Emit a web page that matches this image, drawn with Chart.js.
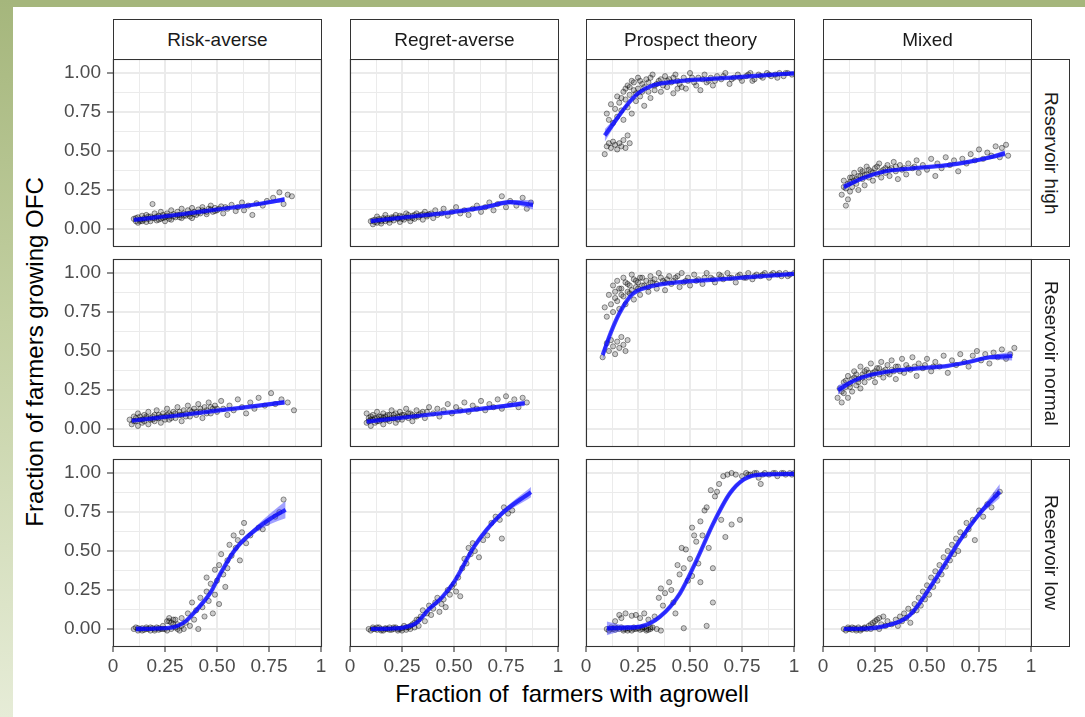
<!DOCTYPE html>
<html>
<head>
<meta charset="utf-8">
<script src="https://cdn.jsdelivr.net/npm/chart.js@4/dist/chart.umd.min.js"></script>
<style>
  body { margin: 0; background: #fff; font-family: 'Liberation Sans', Arial, sans-serif; }
  #page { position: relative; width: 1085px; height: 717px; overflow: hidden; background: #fff; }
  .band-top { position: absolute; left: 0; top: 0; width: 1085px; height: 7px; background: #a5b67c; }
  .band-left { position: absolute; left: 0; top: 0; width: 13px; height: 717px;
               background: linear-gradient(#a5b67c, #c3d0a2 45%, #e6ecd7); }
  .panel { position: absolute; }
  .strip { position: absolute; box-sizing: border-box; border: 1px solid #333; background: #fff;
           color: #1a1a1a; font-size: 19px; display: flex; align-items: center; justify-content: center; }
  .strip.side span { writing-mode: vertical-rl; }
  .title { position: absolute; color: #000; font-size: 24px; text-align: center;
           height: 28px; line-height: 28px; width: 600px; }
</style>
</head>
<body>
<div id="page">
  <div class="band-top"></div>
  <div class="band-left"></div>
  <div class="title" style="left:272px; top:680px;">Fraction of&nbsp; farmers with agrowell</div>
  <div class="title" style="left:-265px; top:338px; transform:rotate(-90deg);">Fraction of farmers growing OFC</div>
</div>
<script>
// facet labels
const colLabels = ['Risk-averse', 'Regret-averse', 'Prospect theory', 'Mixed'];
const rowLabels = ['Reservoir high', 'Reservoir normal', 'Reservoir low'];

// axis ticks
const xTickVals = [0, 0.25, 0.5, 0.75, 1];
const xTickLabels = ['0', '0.25', '0.50', '0.75', '1'];
const yTickVals = [0, 0.25, 0.5, 0.75, 1];
const yTickLabels = ['0.00', '0.25', '0.50', '0.75', '1.00'];
const gridVals = [0, 0.125, 0.25, 0.375, 0.5, 0.625, 0.75, 0.875, 1];

// simulated runs: [agrowell fraction, OFC fraction]
const ptsHighRisk = [[0.10,0.065],[0.11,0.05],[0.12,0.075],[0.12,0.04],[0.13,0.06],[0.14,0.085],[0.14,0.05],[0.15,0.07],[0.16,0.045],[0.16,0.09],[0.17,0.065],[0.18,0.08],[0.18,0.05],[0.19,0.16],[0.20,0.07],[0.20,0.10],[0.21,0.055],[0.22,0.085],[0.23,0.065],[0.23,0.11],[0.24,0.09],[0.25,0.05],[0.25,0.075],[0.26,0.10],[0.27,0.08],[0.28,0.12],[0.28,0.06],[0.29,0.095],[0.30,0.075],[0.31,0.11],[0.32,0.09],[0.33,0.13],[0.33,0.07],[0.34,0.10],[0.35,0.085],[0.36,0.12],[0.37,0.10],[0.38,0.07],[0.38,0.135],[0.39,0.11],[0.40,0.09],[0.41,0.125],[0.42,0.10],[0.43,0.14],[0.44,0.115],[0.45,0.095],[0.46,0.13],[0.47,0.15],[0.48,0.11],[0.49,0.135],[0.50,0.12],[0.52,0.145],[0.53,0.10],[0.55,0.13],[0.57,0.155],[0.59,0.115],[0.60,0.14],[0.62,0.17],[0.63,0.12],[0.65,0.15],[0.67,0.09],[0.69,0.165],[0.72,0.15],[0.74,0.18],[0.77,0.20],[0.80,0.235],[0.82,0.16],[0.84,0.22],[0.86,0.21],
  [0.11,0.07],[0.13,0.05],[0.15,0.06],[0.17,0.08],[0.19,0.07],[0.21,0.08],[0.22,0.06],[0.24,0.07],[0.26,0.085],[0.27,0.065],[0.29,0.08],[0.31,0.09],[0.32,0.075],[0.34,0.085],[0.36,0.095],[0.37,0.08],[0.39,0.095],[0.41,0.105],[0.43,0.12],[0.45,0.11],[0.47,0.125],[0.49,0.115],[0.51,0.13],[0.54,0.14]];
const ptsHighRegret = [[0.10,0.05],[0.11,0.03],[0.12,0.06],[0.13,0.04],[0.13,0.08],[0.14,0.055],[0.15,0.035],[0.16,0.07],[0.17,0.05],[0.17,0.09],[0.18,0.06],[0.19,0.04],[0.20,0.075],[0.21,0.055],[0.22,0.09],[0.23,0.065],[0.24,0.045],[0.25,0.08],[0.26,0.06],[0.27,0.10],[0.28,0.07],[0.29,0.05],[0.30,0.085],[0.31,0.065],[0.32,0.10],[0.33,0.075],[0.34,0.09],[0.35,0.06],[0.36,0.11],[0.37,0.08],[0.38,0.095],[0.40,0.07],[0.41,0.12],[0.42,0.09],[0.44,0.10],[0.45,0.13],[0.47,0.085],[0.49,0.11],[0.51,0.14],[0.53,0.10],[0.55,0.12],[0.57,0.09],[0.59,0.13],[0.61,0.15],[0.63,0.11],[0.65,0.14],[0.67,0.17],[0.69,0.12],[0.71,0.16],[0.73,0.21],[0.75,0.14],[0.77,0.18],[0.80,0.15],[0.83,0.20],[0.85,0.13],[0.87,0.17],
  [0.11,0.055],[0.12,0.045],[0.14,0.065],[0.15,0.05],[0.16,0.06],[0.18,0.07],[0.19,0.06],[0.20,0.065],[0.21,0.075],[0.23,0.07],[0.24,0.085],[0.25,0.065],[0.27,0.075],[0.28,0.09],[0.30,0.07],[0.31,0.09],[0.33,0.085],[0.35,0.095],[0.37,0.09],[0.39,0.10]];
const ptsHighProspect = [[0.10,0.53],[0.11,0.55],[0.12,0.52],[0.13,0.56],[0.14,0.54],[0.15,0.51],[0.16,0.55],[0.17,0.53],[0.18,0.57],[0.19,0.52],[0.09,0.48],[0.21,0.55],[0.20,0.60],[0.10,0.74],[0.11,0.70],[0.12,0.80],[0.13,0.68],[0.14,0.77],[0.15,0.85],[0.15,0.72],[0.16,0.81],[0.17,0.76],[0.18,0.88],[0.18,0.70],[0.19,0.83],[0.20,0.92],[0.20,0.78],[0.21,0.86],[0.22,0.95],[0.22,0.74],[0.23,0.89],[0.24,0.82],[0.25,0.97],[0.25,0.90],[0.26,0.85],[0.27,0.93],[0.28,0.79],[0.29,0.96],[0.30,0.88],[0.31,0.84],[0.32,0.99],[0.33,0.92],[0.35,0.95],[0.36,0.88],[0.38,0.98],[0.39,0.91],[0.40,0.96],[0.42,0.87],[0.43,0.99],[0.45,0.93],[0.47,0.97],[0.48,0.90],[0.50,1.00],[0.52,0.94],[0.54,0.97],[0.55,0.89],[0.57,0.99],[0.59,0.95],[0.61,0.92],[0.63,0.98],[0.65,0.96],[0.67,1.00],[0.69,0.93],[0.71,0.97],[0.73,0.99],[0.75,0.95],[0.77,0.98],[0.79,1.00],[0.81,0.96],[0.83,0.99],[0.85,0.97],[0.87,1.00],[0.89,0.98],[0.91,0.99],[0.93,1.00],[0.95,0.98],[0.97,1.00],[0.99,0.99],[0.44,0.90],[0.60,0.97],[0.80,0.95],
  [0.17,0.84],[0.19,0.90],[0.21,0.91],[0.23,0.94],[0.24,0.87],[0.26,0.95],[0.27,0.88],[0.28,0.91],[0.30,0.94],[0.31,0.97],[0.33,0.89],[0.34,0.93],[0.36,0.96],[0.37,0.92],[0.39,0.95],[0.41,0.94],[0.42,0.97],[0.44,0.95],[0.46,0.91],[0.49,0.95],[0.51,0.97],[0.53,0.92],[0.56,0.96],[0.58,0.94],[0.62,0.95],[0.66,0.98],[0.70,0.96],[0.74,0.97],[0.78,0.99],[0.84,0.98],[0.88,0.99],[0.92,0.97],[0.96,1.00]];
const ptsHighMixed = [[0.09,0.22],[0.10,0.27],[0.10,0.31],[0.11,0.15],[0.12,0.19],[0.12,0.29],[0.13,0.24],[0.13,0.33],[0.14,0.27],[0.15,0.31],[0.15,0.36],[0.16,0.29],[0.17,0.34],[0.17,0.25],[0.18,0.38],[0.19,0.32],[0.20,0.35],[0.20,0.28],[0.21,0.40],[0.22,0.33],[0.23,0.37],[0.24,0.31],[0.25,0.39],[0.26,0.35],[0.27,0.42],[0.28,0.33],[0.29,0.38],[0.30,0.36],[0.31,0.41],[0.32,0.34],[0.33,0.39],[0.34,0.43],[0.35,0.37],[0.36,0.32],[0.37,0.41],[0.38,0.38],[0.40,0.35],[0.41,0.42],[0.43,0.39],[0.45,0.44],[0.46,0.36],[0.48,0.41],[0.50,0.38],[0.52,0.45],[0.54,0.34],[0.55,0.42],[0.57,0.39],[0.59,0.46],[0.61,0.41],[0.63,0.44],[0.65,0.37],[0.67,0.45],[0.69,0.42],[0.71,0.48],[0.73,0.44],[0.75,0.51],[0.77,0.45],[0.79,0.49],[0.81,0.47],[0.83,0.53],[0.85,0.46],[0.86,0.52],[0.88,0.54],[0.89,0.47],
  [0.11,0.26],[0.13,0.30],[0.14,0.33],[0.16,0.32],[0.18,0.34],[0.19,0.37],[0.21,0.35],[0.22,0.38],[0.24,0.36],[0.26,0.40],[0.28,0.37],[0.30,0.39],[0.32,0.38],[0.35,0.40],[0.39,0.39],[0.44,0.40]];
const ptsNormRisk = [[0.08,0.06],[0.09,0.03],[0.10,0.08],[0.11,0.05],[0.12,0.02],[0.12,0.10],[0.13,0.06],[0.14,0.04],[0.15,0.09],[0.16,0.07],[0.17,0.03],[0.17,0.11],[0.18,0.06],[0.19,0.08],[0.20,0.05],[0.21,0.12],[0.22,0.07],[0.23,0.04],[0.24,0.10],[0.25,0.08],[0.26,0.13],[0.27,0.06],[0.28,0.09],[0.29,0.11],[0.30,0.07],[0.31,0.14],[0.32,0.09],[0.33,0.05],[0.34,0.12],[0.35,0.10],[0.36,0.15],[0.37,0.08],[0.38,0.11],[0.39,0.13],[0.40,0.09],[0.41,0.16],[0.42,0.11],[0.43,0.07],[0.44,0.14],[0.45,0.12],[0.46,0.17],[0.47,0.10],[0.48,0.13],[0.49,0.15],[0.50,0.11],[0.52,0.18],[0.53,0.13],[0.55,0.09],[0.56,0.15],[0.58,0.12],[0.60,0.19],[0.62,0.14],[0.64,0.10],[0.66,0.17],[0.68,0.13],[0.70,0.20],[0.73,0.15],[0.76,0.23],[0.78,0.16],[0.81,0.19],[0.84,0.17],[0.87,0.12],
  [0.10,0.05],[0.11,0.07],[0.13,0.08],[0.14,0.06],[0.15,0.05],[0.16,0.08],[0.18,0.07],[0.19,0.06],[0.20,0.09],[0.21,0.07],[0.22,0.09],[0.23,0.08],[0.25,0.06],[0.26,0.09],[0.27,0.10],[0.28,0.07],[0.30,0.10],[0.32,0.11],[0.33,0.09],[0.35,0.08],[0.37,0.12],[0.40,0.11],[0.42,0.13],[0.45,0.10],[0.47,0.14],[0.50,0.13]];
const ptsNormRegret = [[0.08,0.10],[0.08,0.04],[0.09,0.07],[0.10,0.02],[0.10,0.06],[0.11,0.09],[0.12,0.04],[0.13,0.07],[0.13,0.11],[0.14,0.05],[0.15,0.08],[0.16,0.03],[0.16,0.10],[0.17,0.06],[0.18,0.09],[0.19,0.05],[0.20,0.12],[0.21,0.07],[0.22,0.04],[0.22,0.10],[0.23,0.08],[0.24,0.11],[0.25,0.06],[0.26,0.09],[0.27,0.13],[0.28,0.07],[0.29,0.10],[0.30,0.05],[0.31,0.08],[0.32,0.12],[0.33,0.09],[0.35,0.11],[0.36,0.07],[0.38,0.14],[0.40,0.10],[0.42,0.13],[0.43,0.08],[0.45,0.12],[0.47,0.16],[0.49,0.10],[0.51,0.14],[0.53,0.12],[0.55,0.17],[0.57,0.11],[0.59,0.15],[0.61,0.13],[0.63,0.18],[0.65,0.12],[0.67,0.16],[0.69,0.14],[0.71,0.19],[0.73,0.13],[0.75,0.21],[0.77,0.16],[0.79,0.19],[0.81,0.14],[0.83,0.20],[0.85,0.17],
  [0.09,0.05],[0.10,0.08],[0.11,0.06],[0.12,0.07],[0.13,0.05],[0.14,0.08],[0.15,0.06],[0.16,0.07],[0.17,0.08],[0.18,0.06],[0.19,0.09],[0.20,0.07],[0.21,0.09],[0.23,0.06],[0.24,0.08],[0.25,0.09],[0.27,0.08],[0.28,0.10],[0.30,0.09],[0.32,0.08],[0.34,0.10],[0.37,0.11]];
const ptsNormProspect = [[0.10,0.55],[0.11,0.50],[0.12,0.57],[0.13,0.53],[0.14,0.48],[0.15,0.56],[0.16,0.52],[0.17,0.59],[0.18,0.54],[0.19,0.50],[0.20,0.57],[0.08,0.46],[0.09,0.78],[0.10,0.72],[0.11,0.86],[0.12,0.80],[0.13,0.92],[0.13,0.75],[0.14,0.88],[0.15,0.82],[0.15,0.95],[0.16,0.77],[0.17,0.90],[0.18,0.85],[0.18,0.97],[0.19,0.80],[0.20,0.93],[0.21,0.87],[0.22,0.99],[0.23,0.83],[0.24,0.95],[0.25,0.90],[0.26,0.86],[0.27,0.97],[0.28,0.92],[0.30,0.88],[0.31,0.98],[0.32,0.94],[0.34,0.90],[0.35,1.00],[0.37,0.95],[0.38,0.89],[0.40,0.98],[0.41,0.93],[0.43,0.97],[0.45,0.91],[0.46,1.00],[0.48,0.95],[0.50,0.92],[0.52,0.99],[0.54,0.96],[0.56,0.93],[0.58,1.00],[0.60,0.97],[0.62,0.94],[0.64,0.99],[0.66,0.96],[0.68,1.00],[0.70,0.97],[0.72,0.94],[0.74,0.99],[0.76,0.97],[0.78,1.00],[0.80,0.96],[0.82,0.99],[0.84,0.98],[0.86,1.00],[0.88,0.97],[0.90,1.00],[0.92,0.99],[0.94,0.98],[0.96,1.00],[0.98,0.99],[1.00,1.00],
  [0.14,0.84],[0.16,0.90],[0.17,0.86],[0.19,0.94],[0.20,0.88],[0.21,0.92],[0.22,0.89],[0.23,0.96],[0.24,0.91],[0.25,0.94],[0.26,0.97],[0.27,0.92],[0.29,0.95],[0.30,0.91],[0.31,0.94],[0.33,0.96],[0.34,0.93],[0.36,0.97],[0.38,0.94],[0.39,0.96],[0.42,0.95],[0.44,0.98],[0.47,0.94],[0.49,0.97],[0.53,0.95],[0.57,0.97],[0.61,0.96],[0.65,0.98],[0.69,0.97],[0.73,0.98],[0.77,0.97],[0.81,0.98],[0.85,0.99],[0.89,0.99],[0.93,1.00],[0.97,0.98]];
const ptsNormMixed = [[0.07,0.20],[0.08,0.26],[0.09,0.17],[0.10,0.30],[0.10,0.23],[0.11,0.27],[0.12,0.20],[0.12,0.34],[0.13,0.29],[0.14,0.24],[0.15,0.33],[0.15,0.37],[0.16,0.28],[0.17,0.32],[0.18,0.26],[0.18,0.40],[0.19,0.35],[0.20,0.30],[0.21,0.38],[0.22,0.33],[0.23,0.42],[0.24,0.36],[0.25,0.30],[0.26,0.39],[0.27,0.35],[0.28,0.43],[0.29,0.33],[0.30,0.38],[0.31,0.41],[0.32,0.35],[0.33,0.44],[0.34,0.37],[0.35,0.32],[0.36,0.40],[0.38,0.45],[0.39,0.36],[0.40,0.41],[0.42,0.38],[0.43,0.46],[0.45,0.34],[0.46,0.42],[0.48,0.39],[0.50,0.45],[0.52,0.37],[0.54,0.43],[0.56,0.40],[0.58,0.47],[0.60,0.36],[0.62,0.44],[0.64,0.41],[0.66,0.48],[0.68,0.43],[0.70,0.40],[0.72,0.47],[0.74,0.50],[0.76,0.44],[0.78,0.48],[0.80,0.42],[0.82,0.49],[0.84,0.46],[0.86,0.51],[0.88,0.45],[0.90,0.48],[0.92,0.52],
  [0.09,0.24],[0.11,0.31],[0.13,0.27],[0.14,0.32],[0.16,0.35],[0.17,0.30],[0.19,0.33],[0.20,0.37],[0.22,0.36],[0.24,0.34],[0.25,0.37],[0.27,0.39],[0.29,0.37],[0.31,0.36],[0.33,0.38],[0.35,0.40],[0.37,0.37],[0.41,0.39],[0.44,0.40],[0.49,0.41],[0.53,0.40]];
const ptsLowRisk = [[0.10,0.00],[0.11,0.01],[0.12,-0.01],[0.13,0.00],[0.14,0.005],[0.15,-0.005],[0.16,0.01],[0.17,0.00],[0.18,-0.01],[0.19,0.005],[0.20,0.00],[0.21,0.01],[0.22,-0.005],[0.23,0.00],[0.24,0.02],[0.25,0.00],[0.26,0.05],[0.26,-0.01],[0.27,0.07],[0.28,0.00],[0.28,0.04],[0.29,0.06],[0.30,0.01],[0.31,0.03],[0.32,-0.01],[0.33,0.07],[0.34,0.00],[0.35,0.04],[0.36,0.10],[0.37,0.02],[0.38,0.17],[0.39,0.06],[0.40,0.12],[0.41,0.00],[0.42,0.20],[0.43,0.14],[0.44,0.08],[0.45,0.24],[0.45,0.33],[0.46,0.18],[0.47,0.29],[0.48,0.10],[0.49,0.38],[0.49,0.22],[0.50,0.31],[0.51,0.41],[0.51,0.16],[0.52,0.48],[0.53,0.35],[0.54,0.27],[0.55,0.44],[0.55,0.39],[0.56,0.54],[0.57,0.47],[0.58,0.60],[0.59,0.52],[0.60,0.57],[0.61,0.44],[0.62,0.62],[0.63,0.68],[0.64,0.55],[0.66,0.60],[0.70,0.65],[0.72,0.64],[0.74,0.68],[0.78,0.72],[0.80,0.75],[0.82,0.83],
  [0.12,0.005],[0.14,-0.01],[0.16,0.00],[0.18,0.01],[0.20,-0.01],[0.22,0.005],[0.24,0.00],[0.27,0.05],[0.29,0.03],[0.30,0.06],[0.31,0.00],[0.33,0.02]];
const ptsLowRegret = [[0.09,0.00],[0.10,-0.01],[0.11,0.01],[0.12,0.00],[0.13,-0.005],[0.14,0.01],[0.15,0.00],[0.16,-0.01],[0.17,0.005],[0.18,0.00],[0.19,0.01],[0.20,-0.005],[0.21,0.00],[0.22,0.01],[0.23,-0.01],[0.24,0.00],[0.25,0.005],[0.26,0.02],[0.27,-0.005],[0.28,0.01],[0.29,0.00],[0.30,0.03],[0.31,0.01],[0.32,0.06],[0.33,0.02],[0.34,0.08],[0.35,0.12],[0.36,0.05],[0.37,0.10],[0.38,0.15],[0.39,0.09],[0.40,0.13],[0.41,0.17],[0.42,0.20],[0.43,0.11],[0.44,0.16],[0.45,0.19],[0.46,0.14],[0.47,0.25],[0.48,0.22],[0.49,0.27],[0.50,0.29],[0.51,0.24],[0.52,0.33],[0.53,0.21],[0.54,0.39],[0.55,0.45],[0.56,0.42],[0.57,0.52],[0.58,0.48],[0.59,0.55],[0.60,0.50],[0.62,0.46],[0.64,0.57],[0.66,0.60],[0.68,0.68],[0.70,0.72],[0.72,0.70],[0.73,0.58],[0.74,0.78],[0.76,0.74],[0.78,0.76],
  [0.11,0.00],[0.13,0.01],[0.15,-0.01],[0.17,0.00],[0.19,-0.005],[0.21,0.01],[0.23,0.00],[0.25,-0.01],[0.27,0.01],[0.29,0.02],[0.31,0.04],[0.33,0.06]];
const ptsLowProspect = [[0.10,0.00],[0.11,-0.01],[0.12,0.01],[0.13,0.00],[0.14,-0.005],[0.15,0.005],[0.16,0.00],[0.17,0.01],[0.18,-0.01],[0.19,0.00],[0.20,0.005],[0.21,0.00],[0.22,-0.01],[0.23,0.01],[0.24,0.00],[0.25,0.005],[0.26,-0.005],[0.27,0.00],[0.28,0.01],[0.29,0.00],[0.30,-0.005],[0.31,0.00],[0.32,0.01],[0.34,0.00],[0.36,-0.01],[0.16,0.09],[0.17,0.07],[0.19,0.10],[0.22,0.085],[0.24,0.09],[0.26,0.07],[0.28,0.10],[0.30,0.06],[0.33,0.08],[0.14,0.05],[0.35,0.20],[0.36,0.26],[0.37,0.15],[0.38,0.23],[0.40,0.30],[0.41,0.25],[0.42,0.17],[0.43,0.10],[0.44,0.41],[0.45,0.35],[0.46,0.52],[0.47,0.39],[0.48,0.51],[0.49,0.31],[0.50,0.45],[0.51,0.65],[0.51,0.34],[0.52,0.60],[0.53,0.56],[0.54,0.42],[0.55,0.69],[0.55,0.30],[0.56,0.60],[0.57,0.76],[0.58,0.78],[0.59,0.52],[0.60,0.89],[0.61,0.39],[0.61,0.17],[0.62,0.85],[0.63,0.88],[0.64,0.93],[0.65,0.70],[0.66,0.98],[0.67,0.59],[0.68,0.99],[0.70,0.67],[0.70,1.00],[0.72,0.99],[0.74,0.70],[0.75,0.98],[0.77,1.00],[0.79,0.99],[0.81,1.00],[0.83,0.97],[0.84,0.93],[0.86,1.00],[0.88,0.99],[0.90,1.00],[0.92,0.98],[0.94,1.00],[0.96,0.99],[0.98,1.00],[1.00,1.00],[0.58,0.02],[0.47,0.005],
  [0.12,0.00],[0.14,0.01],[0.18,0.00],[0.20,-0.01],[0.23,0.00],[0.27,0.01],[0.29,-0.01],[0.31,0.01],[0.78,0.99],[0.82,1.00],[0.85,0.99],[0.91,1.00],[0.95,1.00],[0.99,0.99]];
const ptsLowMixed = [[0.10,0.00],[0.11,-0.01],[0.12,0.01],[0.13,0.00],[0.14,-0.005],[0.15,0.005],[0.16,0.00],[0.17,0.01],[0.18,-0.01],[0.19,0.00],[0.20,0.005],[0.21,0.00],[0.22,0.02],[0.23,0.00],[0.24,0.04],[0.25,0.01],[0.26,0.06],[0.27,0.00],[0.28,0.03],[0.29,0.08],[0.30,0.02],[0.31,0.05],
  [0.33,0.03],[0.35,0.06],[0.36,0.02],[0.37,0.08],[0.38,0.05],[0.39,0.10],[0.40,0.07],[0.41,0.13],[0.42,0.04],[0.43,0.11],[0.44,0.16],[0.45,0.12],[0.46,0.20],[0.47,0.15],[0.48,0.24],[0.49,0.19],[0.50,0.28],[0.51,0.22],[0.52,0.33],[0.53,0.27],[0.54,0.37],[0.55,0.31],[0.56,0.41],[0.57,0.35],[0.58,0.46],[0.59,0.40],[0.60,0.50],[0.61,0.44],[0.62,0.54],[0.63,0.48],[0.64,0.58],[0.65,0.50],[0.66,0.62],[0.68,0.60],[0.69,0.68],[0.70,0.64],[0.72,0.70],[0.73,0.57],[0.75,0.76],[0.77,0.72],[0.79,0.80],[0.81,0.78],[0.83,0.86],[0.85,0.88],
  [0.12,0.00],[0.14,0.01],[0.16,-0.01],[0.18,0.00],[0.20,0.01],[0.23,0.03],[0.25,0.05],[0.27,0.07]];

// smoothed fit: [x, fit, lower, upper]
const fitHighRisk = [[0.10,0.058,0.050,0.066],[0.30,0.090,0.085,0.095],[0.50,0.125,0.120,0.130],[0.70,0.160,0.150,0.170],[0.825,0.190,0.175,0.205]];
const fitHighRegret = [[0.10,0.050,0.040,0.060],[0.30,0.080,0.075,0.085],[0.50,0.110,0.103,0.117],[0.65,0.140,0.130,0.150],[0.77,0.172,0.158,0.186],[0.88,0.155,0.125,0.185]];
const fitHighProspect = [[0.09,0.60,0.56,0.64],[0.15,0.71,0.69,0.73],[0.20,0.80,0.785,0.815],[0.25,0.87,0.86,0.88],[0.32,0.92,0.91,0.93],[0.40,0.94,0.932,0.948],[0.50,0.955,0.948,0.962],[0.60,0.962,0.955,0.969],[0.70,0.970,0.963,0.977],[0.80,0.980,0.973,0.987],[0.90,0.990,0.982,0.998],[1.00,0.998,0.985,1.011]];
const fitHighMixed = [[0.10,0.27,0.25,0.29],[0.20,0.33,0.32,0.34],[0.30,0.37,0.36,0.38],[0.40,0.385,0.377,0.393],[0.50,0.397,0.389,0.405],[0.60,0.41,0.40,0.42],[0.70,0.43,0.42,0.44],[0.80,0.458,0.445,0.471],[0.875,0.485,0.465,0.505]];
const fitNormRisk = [[0.09,0.053,0.045,0.061],[0.30,0.085,0.080,0.090],[0.50,0.118,0.113,0.123],[0.70,0.150,0.140,0.160],[0.825,0.171,0.155,0.187]];
const fitNormRegret = [[0.08,0.047,0.040,0.054],[0.30,0.080,0.075,0.085],[0.50,0.110,0.105,0.115],[0.70,0.140,0.130,0.150],[0.84,0.165,0.148,0.182]];
const fitNormProspect = [[0.08,0.474,0.44,0.51],[0.12,0.62,0.60,0.64],[0.16,0.74,0.725,0.755],[0.22,0.86,0.85,0.87],[0.30,0.91,0.903,0.917],[0.40,0.935,0.929,0.941],[0.50,0.948,0.942,0.954],[0.60,0.956,0.95,0.962],[0.70,0.965,0.959,0.971],[0.80,0.975,0.969,0.981],[0.90,0.985,0.978,0.992],[1.00,0.995,0.985,1.005]];
const fitNormMixed = [[0.072,0.25,0.22,0.28],[0.15,0.31,0.30,0.32],[0.226,0.346,0.338,0.354],[0.35,0.375,0.368,0.382],[0.47,0.39,0.383,0.397],[0.60,0.405,0.397,0.413],[0.70,0.43,0.42,0.44],[0.80,0.46,0.448,0.472],[0.91,0.468,0.44,0.496]];
const fitLowRisk = [[0.11,0.0,-0.02,0.02],[0.20,0.003,-0.005,0.011],[0.30,0.015,0.005,0.025],[0.35,0.05,0.038,0.062],[0.40,0.12,0.105,0.135],[0.47,0.236,0.22,0.252],[0.52,0.364,0.348,0.38],[0.59,0.514,0.498,0.53],[0.69,0.642,0.622,0.662],[0.76,0.71,0.675,0.745],[0.83,0.765,0.71,0.82]];
const fitLowRegret = [[0.10,0.0,-0.012,0.012],[0.20,0.003,-0.004,0.01],[0.26,0.01,0.002,0.018],[0.32,0.04,0.03,0.05],[0.38,0.128,0.115,0.141],[0.44,0.20,0.188,0.212],[0.50,0.30,0.288,0.312],[0.60,0.535,0.52,0.55],[0.72,0.728,0.712,0.744],[0.87,0.878,0.845,0.911]];
const fitLowProspect = [[0.10,0.004,-0.04,0.048],[0.18,0.008,-0.01,0.026],[0.26,0.015,0.005,0.025],[0.356,0.079,0.066,0.092],[0.452,0.229,0.214,0.244],[0.532,0.442,0.425,0.459],[0.612,0.677,0.66,0.694],[0.692,0.87,0.855,0.885],[0.76,0.96,0.948,0.972],[0.84,0.99,0.98,1.0],[1.00,0.994,0.978,1.01]];
const fitLowMixed = [[0.10,0.0,-0.012,0.012],[0.20,0.002,-0.005,0.009],[0.30,0.02,0.01,0.03],[0.418,0.09,0.077,0.103],[0.538,0.314,0.298,0.33],[0.659,0.57,0.553,0.587],[0.755,0.744,0.725,0.763],[0.85,0.88,0.84,0.93]];

const panelPts = [
  [ptsHighRisk, ptsHighRegret, ptsHighProspect, ptsHighMixed],
  [ptsNormRisk, ptsNormRegret, ptsNormProspect, ptsNormMixed],
  [ptsLowRisk, ptsLowRegret, ptsLowProspect, ptsLowMixed]
];
const panelFit = [
  [fitHighRisk, fitHighRegret, fitHighProspect, fitHighMixed],
  [fitNormRisk, fitNormRegret, fitNormProspect, fitNormMixed],
  [fitLowRisk, fitLowRegret, fitLowProspect, fitLowMixed]
];

// layout (px)
const panelLeft = [113, 350, 586, 823];
const panelTop = [59, 259, 459];
const panelW = 208, panelH = 187;
const padL = 55, padT = 20, padR = 12, padB = 30;
const FONT = "'Liberation Sans', Arial, sans-serif";

const isMajor = v => Math.abs(v * 4 - Math.round(v * 4)) < 1e-9;

const panelBorder = {
  id: 'panelBorder',
  afterDraw(chart) {
    const { ctx, chartArea: a } = chart;
    ctx.save();
    ctx.strokeStyle = '#333333';
    ctx.lineWidth = 1.1;
    ctx.strokeRect(a.left + 0.5, a.top + 0.5, a.width, a.height);
    ctx.restore();
  }
};

const page = document.getElementById('page');

function makeAxis(values, labels, showLabels, fixSize) {
  return {
    type: 'linear',
    afterBuildTicks: s => { s.ticks = gridVals.map(v => ({ value: v })); },
    afterFit: fixSize,
    border: { display: false },
    grid: {
      color: '#ebebeb',
      lineWidth: c => (c.tick && isMajor(c.tick.value)) ? 2 : 1,
      drawTicks: showLabels,
      tickLength: 6,
      tickWidth: 1.1,
      tickColor: c => (c.tick && isMajor(c.tick.value)) ? '#333333' : 'rgba(0,0,0,0)'
    },
    ticks: {
      display: showLabels,
      autoSkip: false,
      maxRotation: 0,
      color: '#4d4d4d',
      font: { family: FONT, size: 19 },
      callback: v => {
        const i = values.findIndex(t => Math.abs(t - v) < 1e-9);
        return i >= 0 ? labels[i] : '';
      }
    }
  };
}

rowLabels.forEach((rowName, r) => {
  colLabels.forEach((colName, c) => {
    const L = panelLeft[c], T = panelTop[r];
    const canvas = document.createElement('canvas');
    canvas.width = padL + panelW + padR;
    canvas.height = padT + panelH + padB;
    canvas.className = 'panel';
    canvas.style.left = (L - padL) + 'px';
    canvas.style.top = (T - padT) + 'px';
    page.appendChild(canvas);

    const pts = panelPts[r][c];
    const fit = panelFit[r][c];

    const xAxis = makeAxis(xTickVals, xTickLabels, r === rowLabels.length - 1, s => { s.height = padB; });
    xAxis.min = 0; xAxis.max = 1;
    xAxis.ticks.padding = 3;
    const yAxis = makeAxis(yTickVals, yTickLabels, c === 0, s => { s.width = padL; });
    yAxis.min = -0.109; yAxis.max = 1.09;
    yAxis.ticks.padding = 6;

    new Chart(canvas, {
      type: 'line',
      data: {
        datasets: [
          {
            data: pts.map(p => ({ x: p[0], y: p[1] })),
            showLine: false,
            pointRadius: 2.6,
            pointBackgroundColor: 'rgba(0,0,0,0.2)',
            pointBorderColor: 'rgba(0,0,0,0.46)',
            pointBorderWidth: 0.9,
            order: 3
          },
          {
            data: fit.map(f => ({ x: f[0], y: f[2] })),
            borderWidth: 0, pointRadius: 0, fill: false,
            cubicInterpolationMode: 'monotone', order: 2
          },
          {
            data: fit.map(f => ({ x: f[0], y: f[3] })),
            borderWidth: 0, pointRadius: 0, fill: '-1',
            backgroundColor: 'rgba(70,70,255,0.5)',
            cubicInterpolationMode: 'monotone', order: 1
          },
          {
            data: fit.map(f => ({ x: f[0], y: f[1] })),
            borderColor: 'rgba(0,0,255,0.75)', borderWidth: 4.2,
            pointRadius: 0, cubicInterpolationMode: 'monotone', order: 0
          }
        ]
      },
      options: {
        responsive: false,
        animation: false,
        devicePixelRatio: 1,
        events: [],
        layout: { padding: { top: padT, right: padR, left: 0, bottom: 0 } },
        plugins: { legend: { display: false }, tooltip: { enabled: false } },
        scales: { x: xAxis, y: yAxis }
      },
      plugins: [panelBorder]
    });
  });
});

// facet strips
colLabels.forEach((name, c) => {
  const d = document.createElement('div');
  d.className = 'strip';
  d.style.left = panelLeft[c] + 'px';
  d.style.top = '19px';
  d.style.width = (panelW + 1) + 'px';
  d.style.height = '41px';
  d.textContent = name;
  page.appendChild(d);
});
rowLabels.forEach((name, r) => {
  const d = document.createElement('div');
  d.className = 'strip side';
  d.style.left = (panelLeft[3] + panelW) + 'px';
  d.style.top = panelTop[r] + 'px';
  d.style.width = '39px';
  d.style.height = (panelH + 1) + 'px';
  const s = document.createElement('span');
  s.textContent = name;
  d.appendChild(s);
  page.appendChild(d);
});
</script>
</body>
</html>
